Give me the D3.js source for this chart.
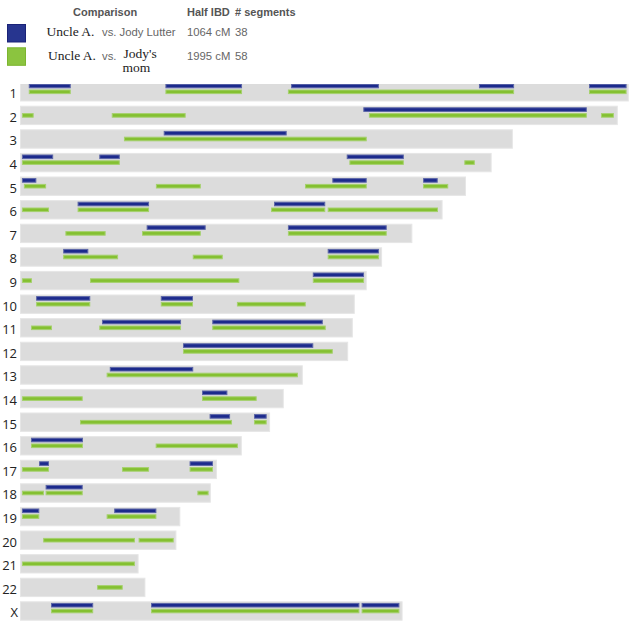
<!DOCTYPE html>
<html>
<head>
<meta charset="utf-8">
<script src="https://cdn.jsdelivr.net/npm/d3@7"></script>
<style>
  body { margin: 0; background: #fff; }
  svg { display: block; }
  .hdr { font-family: "Liberation Sans", Arial, sans-serif; font-size: 11px; font-weight: bold; fill: #555; }
  .sans { font-family: "Liberation Sans", Arial, sans-serif; font-size: 11.3px; fill: #666; }
  .serif { font-family: "Liberation Serif", "Times New Roman", serif; font-size: 13.5px; fill: #222; }
  .chr-label { font-family: "Open Sans", "DejaVu Sans", sans-serif; font-size: 13px; fill: #222; }
</style>
</head>
<body>
<svg id="chart"></svg>
<script>
// chromosome names and lengths (Mb)
const chromosomes = ['1','2','3','4','5','6','7','8','9','10','11','12','13','14','15','16','17','18','19','20','21','22','X'];
const chromLengths = [249.5, 245, 202, 193.3, 182.8, 173.2, 160.8, 148.4, 142.1, 137.2, 136.4, 134.5,
                      115.9, 108.1, 102.5, 90.9, 80.7, 78.2, 65.7, 64.1, 48.6, 51.4, 156.8];

// Uncle A. vs. Jody Lutter: [chromosome, start Mb, end Mb]
const jodyLutterSegments = [
    ['1', 3.6, 20.8], ['1', 59.6, 91.0], ['1', 111.1, 147.1], ['1', 188.1, 202.5], ['1', 233.2, 248.6],
    ['2', 140.7, 232.3],
    ['3', 58.9, 109.3],
    ['4', 0.8, 13.6], ['4', 32.5, 40.9], ['4', 133.9, 157.3],
    ['5', 0.8, 6.7], ['5', 128.0, 142.1], ['5', 165.2, 171.2],
    ['6', 23.6, 52.9], ['6', 104.1, 125.1],
    ['7', 51.9, 76.1], ['7', 109.8, 150.3],
    ['8', 17.7, 28.0], ['8', 126.1, 147.1],
    ['9', 120.0, 141.0],
    ['10', 6.6, 28.8], ['10', 57.7, 70.9],
    ['11', 33.6, 66.0], ['11', 78.8, 124.1],
    ['12', 66.8, 120.2],
    ['13', 36.8, 71.0],
    ['14', 74.6, 85.0],
    ['15', 77.7, 86.1], ['15', 95.9, 101.1],
    ['16', 4.5, 25.8],
    ['17', 7.8, 11.9], ['17', 69.5, 79.1],
    ['18', 10.5, 25.7],
    ['19', 0.8, 7.9], ['19', 38.6, 55.9],
    ['X', 12.7, 30.0], ['X', 53.7, 139.1], ['X', 140.0, 155.5]
];

// Uncle A. vs. Jody's mom
const jodysMomSegments = [
    ['1', 3.6, 20.8], ['1', 59.6, 91.0], ['1', 109.8, 202.5], ['1', 233.2, 248.6],
    ['2', 0.8, 5.6], ['2', 37.6, 67.9], ['2', 143.0, 232.3], ['2', 238.1, 243.4],
    ['3', 42.6, 142.1],
    ['4', 0.8, 40.9], ['4', 135.0, 157.3], ['4', 182.1, 186.4],
    ['5', 1.6, 10.7], ['5', 55.7, 74.1], ['5', 116.8, 142.1], ['5', 165.2, 175.5],
    ['6', 0.8, 11.9], ['6', 23.6, 52.9], ['6', 102.9, 125.1], ['6', 126.1, 171.3],
    ['7', 18.6, 35.1], ['7', 50.0, 74.1], ['7', 109.8, 150.3],
    ['8', 17.7, 40.2], ['8', 70.8, 83.1], ['8', 126.1, 147.1],
    ['9', 0.8, 4.9], ['9', 28.7, 89.9], ['9', 120.0, 141.0],
    ['10', 6.6, 28.8], ['10', 57.7, 70.9], ['10', 88.9, 117.1],
    ['11', 4.5, 13.1], ['11', 32.5, 66.0], ['11', 78.8, 125.3],
    ['12', 66.8, 128.2],
    ['13', 35.5, 113.9],
    ['14', 0.8, 25.7], ['14', 74.6, 97.0],
    ['15', 24.6, 86.9], ['15', 95.9, 101.1],
    ['16', 4.5, 25.8], ['16', 55.6, 89.3],
    ['17', 0.8, 11.9], ['17', 41.8, 52.9], ['17', 69.5, 79.1],
    ['18', 0.8, 9.8], ['18', 10.5, 25.7], ['18', 72.7, 77.3],
    ['19', 0.8, 7.9], ['19', 35.5, 55.9],
    ['20', 9.5, 47.1], ['20', 48.6, 63.0],
    ['21', 0.8, 47.1],
    ['22', 31.6, 42.1],
    ['X', 12.7, 30.0], ['X', 53.7, 139.1], ['X', 140.0, 155.5]
];

// legend rows
const comparisons = [
    { name: 'Uncle A.', other: ['Jody Lutter'], otherSerif: false, ibd: '1064 cM', segs: '38', color: '#27358f', edge: '#1a2378' },
    { name: 'Uncle A.', other: ["Jody's", 'mom'], otherSerif: true, ibd: '1995 cM', segs: '58', color: '#8bc43f', edge: '#7cb52f' }
];

const width = 640, height = 628;
const svg = d3.select('#chart').attr('width', width).attr('height', height);

const x = d3.scaleLinear().domain([0, 250]).range([20, 630]);
const y = d3.scaleBand().domain(chromosomes).range([82.1, 620.7]).paddingInner(0.178);

// ---- legend ----
const legend = svg.append('g');
legend.append('text').attr('class', 'hdr').attr('x', 73).attr('y', 16).text('Comparison');
legend.append('text').attr('class', 'hdr').attr('x', 187).attr('y', 16).text('Half IBD');
legend.append('text').attr('class', 'hdr').attr('x', 235).attr('y', 16).text('# segments');

comparisons.forEach((c, i) => {
    const top = 24 + i * 23.3;
    const base = 36 + i * 24;
    legend.append('rect')
        .attr('x', 7.5).attr('y', top + 0.5)
        .attr('width', 18).attr('height', 17.5)
        .attr('fill', c.color).attr('stroke', c.edge);
    legend.append('text').attr('class', 'serif').attr('x', 46.5 + i * 1.5).attr('y', base).text(c.name);
    if (c.otherSerif) {
        // two-line name, like the wrapped cell in the original table
        legend.append('text').attr('class', 'sans').attr('x', 102).attr('y', base).text('vs.');
        legend.append('text').attr('class', 'serif').attr('x', 123.5).attr('y', base - 2.5).text(c.other[0]);
        legend.append('text').attr('class', 'serif').attr('x', 122.5).attr('y', base + 11.8).text(c.other[1]);
    } else {
        legend.append('text').attr('class', 'sans').attr('x', 102).attr('y', base).text('vs. ' + c.other[0]);
    }
    legend.append('text').attr('class', 'sans').attr('x', 187).attr('y', base).text(c.ibd);
    legend.append('text').attr('class', 'sans').attr('x', 235).attr('y', base).text(c.segs);
});

// ---- chromosome plot ----
svg.append('clipPath').attr('id', 'plot-clip')
    .append('rect').attr('x', 0).attr('y', 84).attr('width', width).attr('height', height - 84);

const plot = svg.append('g').attr('clip-path', 'url(#plot-clip)');
const chromData = chromosomes.map((c, i) => ({ chr: c, len: chromLengths[i] }));

plot.selectAll('.chrom')
    .data(chromData)
    .enter()
    .append('rect')
    .attr('class', 'chrom')
    .attr('x', x(0) + 0.5)
    .attr('y', d => y(d.chr) + 0.5)
    .attr('width', d => x(d.len) - x(0) - 1)
    .attr('height', y.bandwidth() - 1)
    .attr('fill', '#dcdcdc')
    .attr('stroke', '#e6e6e6');

svg.selectAll('.chr-label')
    .data(chromData)
    .enter()
    .append('text')
    .attr('class', 'chr-label')
    .attr('x', d => d.chr === 'X' ? 18 : 17)
    .attr('y', d => y(d.chr) + y.bandwidth() - 3.3)
    .attr('text-anchor', 'end')
    .text(d => d.chr);

function drawSegments(data, offset, fill, stroke) {
    plot.append('g').selectAll('rect')
        .data(data)
        .enter()
        .append('rect')
        .attr('x', d => x(d[1]) + 0.5)
        .attr('y', d => y(d[0]) + offset + 0.5)
        .attr('width', d => Math.max(0, x(d[2]) - x(d[1]) - 1))
        .attr('height', 3.6)
        .attr('fill', fill)
        .attr('stroke', stroke)
        .attr('stroke-width', 1);
}

drawSegments(jodyLutterSegments, 1.6, '#1c2a8c', '#5d67a8');
drawSegments(jodysMomSegments, 7.4, '#84c031', '#a6d16e');
</script>
</body>
</html>
